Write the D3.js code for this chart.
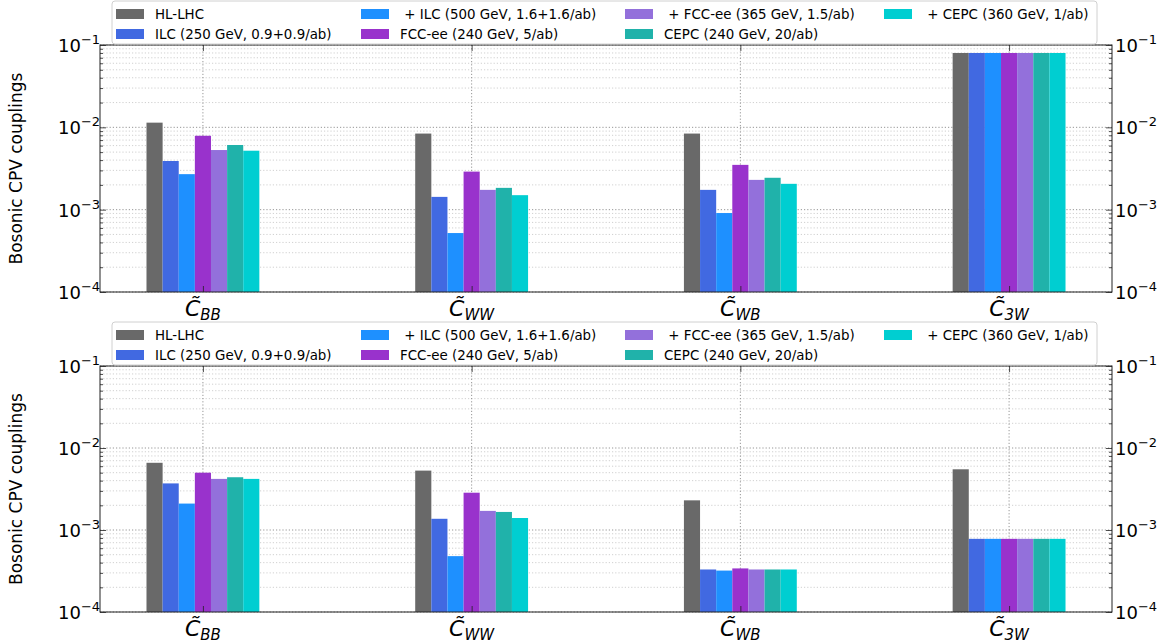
<!DOCTYPE html>
<html>
<head>
<meta charset="utf-8">
<script src="https://cdn.jsdelivr.net/npm/d3@7"></script>
<style>
  html, body { margin: 0; padding: 0; background: #fff; }
  svg { display: block; font-family: "DejaVu Sans", sans-serif; }
</style>
</head>
<body>
<svg id="chart" width="1163" height="643"></svg>
<script>
// Operators on the x axis (tilde-C Wilson coefficients)
const categories = ["BB", "WW", "WB", "3W"];

// Scenario names, in legend order
const seriesNames = [
  "HL-LHC",
  "ILC (250 GeV, 0.9+0.9/ab)",
  " + ILC (500 GeV, 1.6+1.6/ab)",
  "FCC-ee (240 GeV, 5/ab)",
  " + FCC-ee (365 GeV, 1.5/ab)",
  "CEPC (240 GeV, 20/ab)",
  " + CEPC (360 GeV, 1/ab)"
];
const seriesColors = ["#696969", "#4169e1", "#1e90ff", "#9932cc", "#9370db", "#20b2aa", "#00ced1"];

// Upper panel: one array per scenario, ordered as categories
const upperHLLHC   = [0.0114, 0.0084, 0.0084, 0.08];
const upperILC250  = [0.0039, 0.00143, 0.00174, 0.08];
const upperILC500  = [0.0027, 0.00052, 0.00091, 0.08];
const upperFCC240  = [0.0079, 0.0029, 0.0035, 0.08];
const upperFCC365  = [0.0053, 0.00174, 0.0023, 0.08];
const upperCEPC240 = [0.0061, 0.00184, 0.00244, 0.08];
const upperCEPC360 = [0.0052, 0.0015, 0.00206, 0.08];

// Lower panel
const lowerHLLHC   = [0.0066, 0.0053, 0.0023, 0.0055];
const lowerILC250  = [0.0037, 0.00137, 0.00033, 0.00078];
const lowerILC500  = [0.0021, 0.00048, 0.00032, 0.00078];
const lowerFCC240  = [0.0050, 0.00285, 0.00034, 0.00078];
const lowerFCC365  = [0.0042, 0.00171, 0.00033, 0.00078];
const lowerCEPC240 = [0.0044, 0.00166, 0.00033, 0.00078];
const lowerCEPC360 = [0.0042, 0.0014, 0.00033, 0.00078];

// Decade ticks of the log axis
const yTickExponents = [-1, -2, -3, -4];
const yLabel = "Bosonic CPV couplings";

const upperSeries = [upperHLLHC, upperILC250, upperILC500, upperFCC240, upperFCC365, upperCEPC240, upperCEPC360];
const lowerSeries = [lowerHLLHC, lowerILC250, lowerILC500, lowerFCC240, lowerFCC365, lowerCEPC240, lowerCEPC360];

const svg = d3.select("#chart");
const left = 100, right = 1112;
const barWidth = 0.06; // in category units

function drawPanel(top, bottom, series) {
  const g = svg.append("g");
  const x = d3.scaleLinear().domain([-0.383, 3.383]).range([left, right]);
  const y = d3.scaleLog().domain([1e-4, 1e-1]).range([bottom, top]);

  // minor + major horizontal grid
  const minorVals = [];
  for (let e = -4; e < -1; e++) for (let k = 2; k <= 9; k++) minorVals.push(k * Math.pow(10, e));
  g.append("g").selectAll("line").data(minorVals).join("line")
    .attr("x1", left).attr("x2", right)
    .attr("y1", d => y(d)).attr("y2", d => y(d))
    .attr("stroke", "#c4c4c4").attr("stroke-width", 0.8).attr("stroke-dasharray", "1.2,2");
  g.append("g").selectAll("line").data(yTickExponents.map(e => Math.pow(10, e))).join("line")
    .attr("x1", left).attr("x2", right)
    .attr("y1", d => y(d)).attr("y2", d => y(d))
    .attr("stroke", "#8a8a8a").attr("stroke-width", 0.9).attr("stroke-dasharray", "1.2,2");
  // vertical grid at categories
  g.append("g").selectAll("line").data(categories).join("line")
    .attr("x1", (d, i) => x(i)).attr("x2", (d, i) => x(i))
    .attr("y1", top).attr("y2", bottom)
    .attr("stroke", "#8a8a8a").attr("stroke-width", 0.9).attr("stroke-dasharray", "1.2,2");

  // bars
  series.forEach((vals, s) => {
    g.append("g").selectAll("rect").data(vals).join("rect")
      .attr("x", (d, i) => x(i + (s - 3.5) * barWidth))
      .attr("width", x(barWidth) - x(0))
      .attr("y", d => y(d))
      .attr("height", d => bottom - y(d))
      .attr("fill", seriesColors[s]);
  });

  // axes (ticks inward on all four sides)
  const majors = yTickExponents.map(e => Math.pow(10, e));
  const axL = d3.axisLeft(y).tickValues(majors).tickSize(-6).tickFormat("");
  const axLm = d3.axisLeft(y).tickValues(minorVals).tickSize(-3).tickFormat("");
  const axR = d3.axisRight(y).tickValues(majors).tickSize(-6).tickFormat("");
  const axRm = d3.axisRight(y).tickValues(minorVals).tickSize(-3).tickFormat("");
  const axB = d3.axisBottom(x).tickValues(d3.range(categories.length)).tickSize(-6).tickFormat("");
  const axT = d3.axisTop(x).tickValues(d3.range(categories.length)).tickSize(-6).tickFormat("");
  [[axL, `translate(${left},0)`], [axLm, `translate(${left},0)`],
   [axR, `translate(${right},0)`], [axRm, `translate(${right},0)`],
   [axB, `translate(0,${bottom})`], [axT, `translate(0,${top})`]].forEach(([ax, t]) => {
    const a = g.append("g").attr("transform", t).call(ax);
    a.select(".domain").remove();
    a.selectAll("line").attr("stroke", "#222").attr("stroke-width", 0.8);
  });
  g.append("rect").attr("x", left).attr("y", top)
    .attr("width", right - left).attr("height", bottom - top)
    .attr("fill", "none").attr("stroke", "#222").attr("stroke-width", 1);

  // y tick labels on both sides
  yTickExponents.forEach(e => {
    const v = Math.pow(10, e);
    [58, 1115].forEach(tx => {
      const t = g.append("text").attr("x", tx).attr("y", y(v) + 7)
        .attr("font-size", 18).attr("fill", "#000");
      t.append("tspan").text("10");
      t.append("tspan").attr("dy", -8).attr("font-size", 13).text("\u2212" + Math.abs(e));
    });
  });

  // x tick labels: C with a combining tilde and an italic subscript
  categories.forEach((c, i) => {
    const t = g.append("text").attr("x", x(i)).attr("y", bottom + 24)
      .attr("text-anchor", "middle").attr("font-size", 22).attr("font-style", "italic");
    t.append("tspan").text("C\u0303");
    t.append("tspan").attr("dy", 4).attr("font-size", 15).text(c);
  });

  // y axis title
  g.append("text")
    .attr("transform", `translate(22,${(top + bottom) / 2}) rotate(-90)`)
    .attr("text-anchor", "middle").attr("font-size", 17).text(yLabel);

  // legend
  const legTop = top - 44;
  const leg = g.append("g");
  leg.append("rect").attr("x", 112).attr("y", legTop).attr("width", 985).attr("height", 43)
    .attr("rx", 3).attr("fill", "#fff").attr("fill-opacity", 0.85)
    .attr("stroke", "#d0d0d0").attr("stroke-width", 1);
  const colX = [116, 361, 625, 884];
  seriesNames.forEach((name, s) => {
    const col = Math.floor(s / 2), row = s % 2;
    const cy = legTop + 13 + row * 20;
    leg.append("rect").attr("x", colX[col]).attr("y", cy - 5)
      .attr("width", 28).attr("height", 10).attr("fill", seriesColors[s]);
    leg.append("text").attr("x", colX[col] + 39).attr("y", cy + 5)
      .attr("font-size", 13.4).attr("xml:space", "preserve")
      .style("white-space", "pre").text(name);
  });
}

drawPanel(45, 292, upperSeries);
drawPanel(366, 612, lowerSeries);
</script>
</body>
</html>
